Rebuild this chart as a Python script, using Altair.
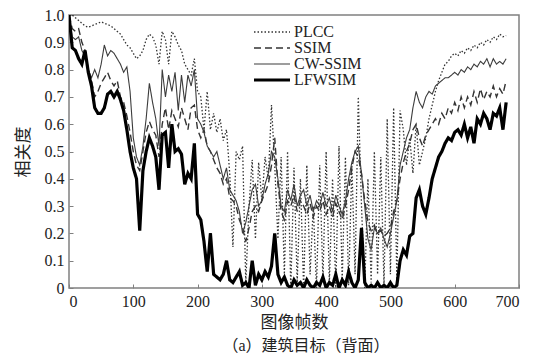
import altair as alt
import pandas as pd

frame_step = 5
series_names = ["PLCC", "SSIM", "CW-SSIM", "LFWSIM"]

plcc = [1.0, 1.0, 0.99, 0.98, 0.97, 0.96, 0.955, 0.96, 0.965, 0.97,
        0.975, 0.97, 0.965, 0.96, 0.95, 0.94, 0.93, 0.91, 0.89, 0.88,
        0.86, 0.84, 0.85, 0.87, 0.91, 0.93, 0.92, 0.89, 0.82, 0.94,
        0.91, 0.82, 0.94, 0.92, 0.89, 0.87, 0.82, 0.80, 0.78, 0.84,
        0.72, 0.70, 0.58, 0.72, 0.58, 0.64, 0.57, 0.62, 0.54, 0.58,
        0.42, 0.15, 0.50, 0.47, 0.52, 0.02, 0.30, 0.47, 0.18, 0.46,
        0.32, 0.48, 0.40, 0.67, 0.45, 0.18, 0.48, 0.05, 0.50, 0.00,
        0.44, 0.02, 0.40, 0.00, 0.45, 0.05, 0.30, 0.00, 0.45, 0.03,
        0.50, 0.02, 0.40, 0.00, 0.52, 0.03, 0.48, 0.01, 0.45, 0.05,
        0.70, 0.30, 0.00, 0.40, 0.02, 0.50, 0.05, 0.48, 0.01, 0.62,
        0.05, 0.66, 0.03, 0.65, 0.58, 0.45, 0.55, 0.42, 0.60, 0.45,
        0.50, 0.55, 0.62, 0.67, 0.72, 0.76, 0.79, 0.82, 0.83, 0.85,
        0.86, 0.85, 0.87, 0.86, 0.88, 0.87, 0.89, 0.88, 0.90, 0.89,
        0.91, 0.90, 0.92, 0.91, 0.93, 0.92, 0.925]

ssim = [1.0, 0.95, 0.94, 0.95, 0.90, 0.87, 0.80, 0.76, 0.70, 0.72,
        0.75, 0.77, 0.79, 0.76, 0.74, 0.76, 0.70, 0.68, 0.63, 0.57,
        0.50, 0.45, 0.43, 0.50, 0.57, 0.61, 0.58, 0.56, 0.48, 0.60,
        0.66, 0.58, 0.65, 0.62, 0.59, 0.66, 0.62, 0.58, 0.66, 0.67,
        0.58, 0.55, 0.58, 0.52, 0.50, 0.47, 0.44, 0.42, 0.38, 0.40,
        0.33, 0.32, 0.30, 0.25, 0.22, 0.17, 0.22, 0.28, 0.30, 0.28,
        0.32, 0.35, 0.38, 0.45, 0.55, 0.38, 0.28, 0.25, 0.32, 0.30,
        0.34, 0.28, 0.32, 0.30, 0.27, 0.31, 0.26, 0.30, 0.28, 0.32,
        0.27, 0.30, 0.26, 0.31, 0.28, 0.25, 0.30, 0.36, 0.44, 0.50,
        0.48, 0.42, 0.32, 0.24, 0.21, 0.23, 0.20, 0.21, 0.19, 0.20,
        0.22, 0.28, 0.32, 0.40, 0.46, 0.50, 0.53, 0.58, 0.60, 0.55,
        0.52, 0.56, 0.58, 0.60, 0.62, 0.60, 0.64, 0.62, 0.66, 0.64,
        0.68, 0.65, 0.70, 0.66, 0.70, 0.67, 0.72, 0.68, 0.73, 0.69,
        0.72, 0.70, 0.74, 0.70, 0.73, 0.71, 0.76]

cw_ssim = [1.0, 0.92, 0.91, 0.92, 0.87, 0.85, 0.80, 0.77, 0.80, 0.77,
           0.82, 0.89, 0.85, 0.87, 0.86, 0.84, 0.82, 0.79, 0.81, 0.72,
           0.55, 0.48, 0.45, 0.52, 0.62, 0.75, 0.68, 0.62, 0.52, 0.80,
           0.70, 0.78, 0.72, 0.79, 0.65, 0.78, 0.68, 0.78, 0.74, 0.80,
           0.62, 0.60, 0.57, 0.52, 0.50, 0.48, 0.50, 0.45, 0.40, 0.44,
           0.36, 0.34, 0.32, 0.28, 0.20, 0.24, 0.30, 0.36, 0.38, 0.30,
           0.32, 0.38, 0.42, 0.50, 0.48, 0.40, 0.30, 0.28, 0.36, 0.32,
           0.38, 0.30, 0.34, 0.36, 0.30, 0.34, 0.28, 0.32, 0.30, 0.35,
           0.30, 0.33, 0.28, 0.34, 0.30, 0.27, 0.32, 0.40, 0.46, 0.50,
           0.52, 0.42, 0.30, 0.18, 0.14, 0.22, 0.20, 0.22, 0.18, 0.15,
           0.20, 0.26, 0.32, 0.45, 0.50, 0.55, 0.58, 0.66, 0.72, 0.68,
           0.66, 0.70, 0.72, 0.71, 0.74, 0.75, 0.76, 0.77, 0.77, 0.78,
           0.79, 0.78, 0.80, 0.79, 0.81, 0.80, 0.82, 0.81, 0.83, 0.82,
           0.84, 0.81, 0.84, 0.82, 0.83, 0.82, 0.84]

lfwsim = [1.0, 0.88, 0.87, 0.84, 0.82, 0.87, 0.79, 0.74, 0.66, 0.64,
          0.64, 0.66, 0.71, 0.72, 0.70, 0.72, 0.69, 0.65, 0.58, 0.50,
          0.44, 0.40, 0.21, 0.43, 0.50, 0.55, 0.52, 0.48, 0.36, 0.56,
          0.57, 0.44, 0.60, 0.50, 0.51, 0.49, 0.38, 0.42, 0.40, 0.53,
          0.27, 0.25, 0.17, 0.06, 0.20, 0.05, 0.04, 0.03, 0.05, 0.10,
          0.03, 0.02, 0.04, 0.06, 0.01, 0.02, 0.00, 0.10, 0.01, 0.05,
          0.03, 0.06, 0.04, 0.08, 0.20, 0.05, 0.02, 0.04, 0.01, 0.00,
          0.03, 0.01, 0.02, 0.00, 0.03, 0.01, 0.00, 0.02, 0.01, 0.04,
          0.00, 0.02, 0.01, 0.05, 0.00, 0.03, 0.01, 0.06, 0.02, 0.00,
          0.03, 0.22, 0.02, 0.00, 0.01, 0.00, 0.02, 0.00, 0.01, 0.00,
          0.02, 0.00, 0.01, 0.10, 0.14, 0.12, 0.19, 0.20, 0.33, 0.36,
          0.30, 0.27, 0.33, 0.40, 0.44, 0.48, 0.50, 0.53, 0.55, 0.54,
          0.57, 0.58, 0.56, 0.60, 0.55, 0.59, 0.53, 0.62, 0.60, 0.64,
          0.62, 0.58, 0.64, 0.63, 0.66, 0.58, 0.68]

x_ticks = [0, 100, 200, 300, 400, 500, 600, 700]
y_ticks = [0, 0.1, 0.2, 0.3, 0.4, 0.5, 0.6, 0.7, 0.8, 0.9, 1.0]

line_colors = ["#333333", "#333333", "#3c3c3c", "#000000"]
line_dashes = [[1.5, 2], [7, 4], [1, 0], [1, 0]]
line_widths = [1.3, 1.4, 1.1, 3.2]

rows = []
for name, vals in zip(series_names, [plcc, ssim, cw_ssim, lfwsim]):
    for i, v in enumerate(vals):
        rows.append({"frame": i * frame_step, "value": v, "series": name})
df = pd.DataFrame(rows)

serif = "'Liberation Serif', 'Noto Sans CJK SC', serif"

chart = alt.Chart(df).mark_line(clip=True).encode(
    x=alt.X("frame:Q",
            scale=alt.Scale(domain=[0, 700], nice=False),
            axis=alt.Axis(values=x_ticks, title="图像帧数", format="d")),
    y=alt.Y("value:Q",
            scale=alt.Scale(domain=[0, 1], nice=False),
            axis=alt.Axis(values=y_ticks, title="相关度",
                          labelExpr="datum.value == 0 ? '0' : format(datum.value, '.1f')")),
    color=alt.Color("series:N", sort=series_names,
                    scale=alt.Scale(domain=series_names, range=line_colors),
                    legend=alt.Legend(title=None)),
    strokeDash=alt.StrokeDash("series:N", sort=series_names,
                              scale=alt.Scale(domain=series_names, range=line_dashes),
                              legend=alt.Legend(title=None)),
    strokeWidth=alt.StrokeWidth("series:N", sort=series_names,
                                scale=alt.Scale(type="ordinal", domain=series_names, range=line_widths),
                                legend=alt.Legend(title=None)),
).properties(
    width=450,
    height=273,
    autosize=alt.AutoSizeParams(type="none"),
    padding={"left": 61, "top": 7, "right": 9, "bottom": 66},
    title=alt.TitleParams("（a）建筑目标（背面）", orient="bottom", anchor="middle",
                          font=serif, fontSize=16, fontWeight="normal",
                          color="#222222", offset=8, dx=12),
).configure_view(
    stroke="#808080", strokeWidth=1.5
).configure_axis(
    domain=False, grid=False,
    ticks=True, tickSize=4, tickColor="#808080", tickWidth=1, offset=-4,
    labelFont=serif, labelFontSize=16, labelColor="#222222",
    titleFont=serif, titleFontSize=17, titleFontWeight="normal", titleColor="#222222",
    labelPadding=5,
).configure_axisX(
    titlePadding=5
).configure_axisY(
    titlePadding=12
).configure_legend(
    orient="none", legendX=207, legendY=9,
    symbolType="M-5,0H1", symbolSize=144,
    labelFont=serif, labelFontSize=16, labelColor="#222222",
    labelOffset=2, rowPadding=0, padding=0
)

chart.save("out.html", embed_options={"renderer": "svg", "actions": False})
